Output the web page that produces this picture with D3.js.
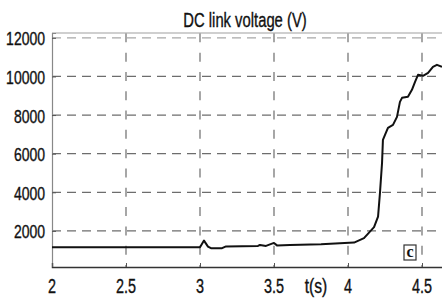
<!DOCTYPE html>
<html>
<head>
<meta charset="utf-8">
<script src="https://cdnjs.cloudflare.com/ajax/libs/d3/7.8.5/d3.min.js"></script>
<style>
  body { margin: 0; background: white; }
  text { font-family: "Liberation Sans", Arial, sans-serif; }
</style>
</head>
<body>
<div id="canvas"></div>
<script>
var w = 442;
var h = 298;

// DC link voltage trace
var times = [2, 3.0, 3.027, 3.054, 3.074, 3.149, 3.176, 3.392, 3.405, 3.446, 3.5, 3.52, 3.608, 3.818,
             4.041, 4.108, 4.176, 4.203, 4.216, 4.23, 4.236, 4.25, 4.27, 4.304, 4.331, 4.351, 4.365,
             4.405, 4.432, 4.453, 4.473, 4.507, 4.541, 4.574, 4.601, 4.635];
var volts = [1155, 1155, 1497, 1187, 1104, 1104, 1197, 1223, 1275, 1223, 1378, 1250, 1275, 1311,
             1394, 1622, 2192, 2741, 3969, 5523, 6715, 6974, 7337, 7492, 7907, 8684, 8891,
             8943, 9306, 9720, 10083, 10031, 10187, 10497, 10601, 10497];

var xTicks = [2, 2.5, 3, 3.5, 4, 4.5];
var yTicks = [2000, 4000, 6000, 8000, 10000, 12000];
var title = "DC link voltage (V)";
var xTitle = "t(s)";

var plotLeft = 52, plotTop = 33, plotBottom = 267;

var svg = d3.select("#canvas")
    .append("svg")
    .attr("width", w)
    .attr("height", h);

var x = d3.scaleLinear().domain([2, 4.7]).range([plotLeft, plotLeft + 2.7 * 148]);
var y = d3.scaleLinear().domain([130, 12250]).range([plotBottom, plotTop]);

// vertical dashes sit on the horizontal grid crossings
var vPeriod = (y(10000) - y(12000)) / 2;
var vOffset = vPeriod - (y(12000) - 4.5 - plotTop);

// dashed grid
svg.selectAll("line.vgrid")
    .data(xTicks.slice(1))
    .join("line")
    .attr("class", "vgrid")
    .attr("x1", d => x(d)).attr("x2", d => x(d))
    .attr("y1", plotTop).attr("y2", plotBottom)
    .attr("stroke", "#6d6d6d")
    .attr("stroke-width", 1.2)
    .attr("stroke-dasharray", `9,${vPeriod - 9}`)
    .attr("stroke-dashoffset", vOffset);

svg.selectAll("line.hgrid")
    .data(yTicks)
    .join("line")
    .attr("class", "hgrid")
    .attr("x1", plotLeft).attr("x2", w)
    .attr("y1", d => y(d)).attr("y2", d => y(d))
    .attr("stroke", d => d === 12000 ? "#a8a8a8" : "#6d6d6d")
    .attr("stroke-width", 1.2)
    .attr("stroke-dasharray", "9,6");

// frame top
svg.append("line")
    .attr("x1", plotLeft).attr("x2", w)
    .attr("y1", plotTop).attr("y2", plotTop)
    .attr("stroke", "#a0a0a0").attr("stroke-width", 1.2);

// narrow text helper (the original uses a condensed font)
function label(px, py, str, size, squeeze, anchor) {
    return svg.append("text")
        .attr("transform", `translate(${px},${py}) scale(${squeeze},1)`)
        .attr("text-anchor", anchor || "middle")
        .style("font-size", size + "px")
        .attr("fill", "#111")
        .attr("stroke", "#111")
        .attr("stroke-width", 0.35)
        .text(str);
}

// axes
var yAxis = svg.append("g")
    .attr("transform", `translate(${plotLeft},0)`)
    .call(d3.axisLeft(y).tickValues(yTicks).tickSize(-4));
yAxis.select(".domain").attr("stroke", "#888").attr("stroke-width", 1.2);
yAxis.selectAll(".tick line").attr("stroke", "#555");
yAxis.selectAll("text").remove();
yTicks.forEach(function(v) {
    label(plotLeft - 7, y(v) + 7.5, d3.format("d")(v), 17.5, 0.8, "end");
});

var xAxis = svg.append("g")
    .attr("transform", `translate(0,${plotBottom})`)
    .call(d3.axisBottom(x).tickValues(xTicks).tickSize(-4));
xAxis.select(".domain").attr("stroke", "#333").attr("stroke-width", 1.4);
xAxis.selectAll(".tick line").attr("stroke", "#555");
xAxis.selectAll("text").remove();
xTicks.forEach(function(t) {
    label(x(t), 292.5, d3.format("")(t), 19.5, 0.74);
});

// the trace
var pts = times.map((t, i) => [t, volts[i]]);
svg.append("path")
    .datum(pts)
    .attr("fill", "none")
    .attr("stroke", "#111")
    .attr("stroke-width", 2)
    .attr("stroke-linejoin", "round")
    .attr("d", d3.line().x(d => x(d[0])).y(d => y(d[1])));

// titles
label(245, 26.5, title, 19.5, 0.76);
label(316, 292.5, xTitle, 19.5, 0.8);

// panel letter
svg.append("rect")
    .attr("x", 404).attr("y", 245)
    .attr("width", 12).attr("height", 15)
    .attr("fill", "white")
    .attr("stroke", "#333").attr("stroke-width", 1.2);
svg.append("text")
    .attr("x", 410).attr("y", 257)
    .attr("text-anchor", "middle")
    .style("font-family", "'Liberation Serif', serif")
    .style("font-weight", "bold")
    .style("font-size", "16px")
    .attr("fill", "#111")
    .text("c");
</script>
</body>
</html>
